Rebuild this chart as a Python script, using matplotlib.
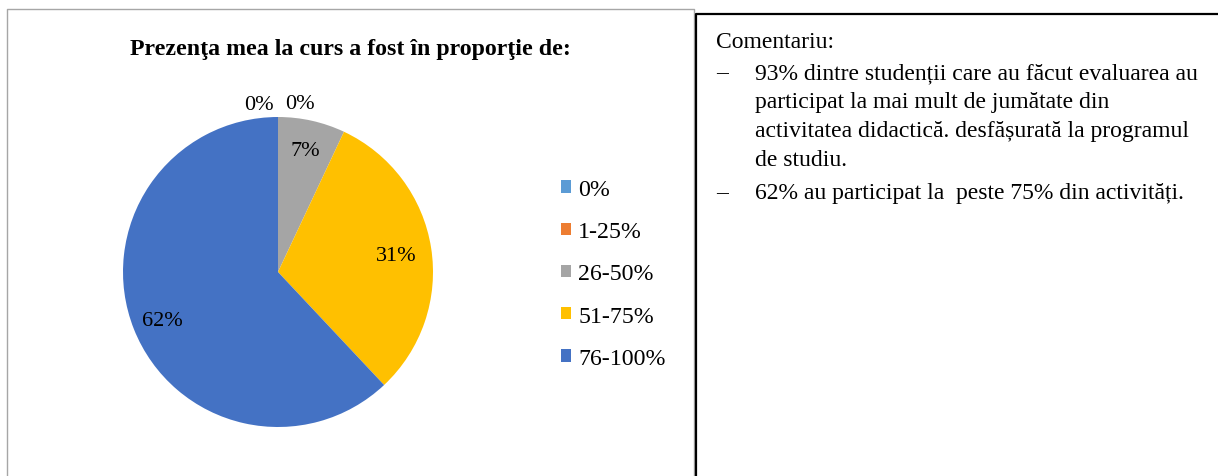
import matplotlib.pyplot as plt
import numpy as np
from matplotlib.lines import Line2D

plt.rcParams['font.family'] = ['Liberation Serif', 'DejaVu Serif']

# data
categories = ["0%", "1-25%", "26-50%", "51-75%", "76-100%"]
shares = [0, 0, 7, 31, 62]
colors = ["#5B9BD5", "#ED7D31", "#A5A5A5", "#FFC000", "#4472C4"]

title = "Prezenţa mea la curs a fost în proporţie de:"
comment_head = "Comentariu:"
comment_items = [
    ["93% dintre studenții care au făcut evaluarea au",
     "participat la mai mult de jumătate din",
     "activitatea didactică. desfășurată la programul",
     "de studiu."],
    ["62% au participat la  peste 75% din activități."],
]

W, H = 1218, 477
fig = plt.figure(figsize=(W / 100, H / 100), dpi=100)


def fx(px):
    return px / W


def fy(py):
    return 1 - py / H


# frames: grey chart border and black table lines
fig.add_artist(Line2D([fx(7), fx(7), fx(693.5), fx(693.5)], [0, fy(10), fy(10), 0],
                      color="#A6A6A6", lw=1.0))
fig.add_artist(Line2D([fx(696), fx(696), 1], [0, fy(14.5), fy(14.5)],
                      color="black", lw=1.6))

# pie
ax = fig.add_axes([fx(123), fy(428), fx(310), 310 / H])
wedges, _ = ax.pie(shares, colors=colors, startangle=90, counterclock=False,
                   radius=1, wedgeprops=dict(linewidth=0))
ax.set_xlim(-1, 1)
ax.set_ylim(-1, 1)
ax.set_aspect("equal")
ax.axis("off")

zero_side = 0
for w, v in zip(wedges, shares):
    ang = np.deg2rad((w.theta1 + w.theta2) / 2)
    lab = f"{v}%"
    if v == 0:
        ha = "right" if zero_side == 0 else "left"
        dx = -0.03 if zero_side == 0 else 0.045
        ax.text(np.cos(ang) + dx, 1.1 * np.sin(ang), lab, ha=ha,
                va="center_baseline", fontsize=16, clip_on=False)
        zero_side += 1
    else:
        r = {7: 0.82, 31: 0.77, 62: 0.8}.get(v, 0.8)
        ax.text(r * np.cos(ang), r * np.sin(ang), lab, ha="center",
                va="center_baseline", fontsize=16)

fig.text(fx(350), fy(50), title, ha="center", va="center", fontsize=17.2,
         fontweight="bold")

fig.legend(wedges, categories, loc="center left",
           bbox_to_anchor=(fx(561), fy(275)), frameon=False, fontsize=17.2,
           handlelength=0.42, handleheight=0.42, handletextpad=0.3,
           labelspacing=0.89, borderpad=0, borderaxespad=0)

# comment cell
fig.text(fx(716), fy(42), comment_head, ha="left", va="center", fontsize=17)
y = 74
for item in comment_items:
    fig.text(fx(716), fy(y), "–", ha="left", va="center", fontsize=17)
    for line in item:
        fig.text(fx(755), fy(y), line, ha="left", va="center", fontsize=17)
        y += 28.7
    y += 5

fig.savefig("out.png", dpi=100)
